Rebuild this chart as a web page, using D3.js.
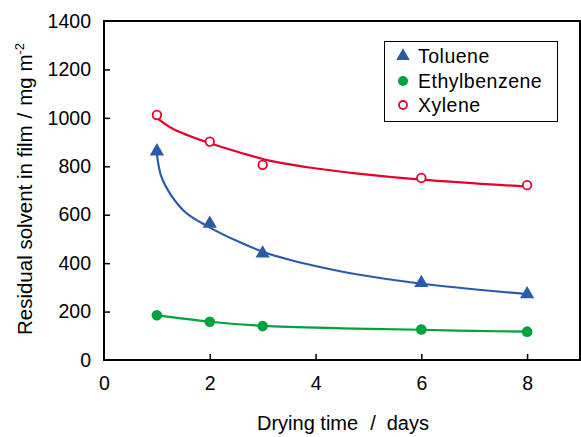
<!DOCTYPE html>
<html>
<head>
<meta charset="utf-8">
<script src="https://cdn.jsdelivr.net/npm/d3@7"></script>
<style>
  body { margin: 0; background: #fff; }
  text { font-family: "Liberation Sans", Arial, sans-serif; fill: #000; }
</style>
</head>
<body>
<div id="chart"></div>
<script>
// Data
const days = [1, 2, 3, 6, 8];
const toluene = [862, 563, 440, 318, 272];
const ethylbenzene = [185, 158, 140, 126, 117];
const xylene = [1012, 902, 806, 752, 722];

// fitted trend curves
const tolueneFitX = [1, 1.08, 1.27, 1.55, 1.95, 2.55, 3.03, 3.54, 4.17, 4.8, 6, 8];
const tolueneFitY = [850, 760, 680, 608, 553, 488, 445, 412, 380, 353, 315, 272];
const ethylFitX = [1, 2, 3, 4.5, 6, 7, 8];
const ethylFitY = [185, 158, 141, 131, 125, 120, 117];
const xyleneFitX = [1, 1.3, 1.95, 2.6, 3.2, 3.85, 4.8, 6, 8];
const xyleneFitY = [1000, 955, 899, 855, 820, 796, 770, 745, 716];

const xTicks = [0, 2, 4, 6, 8];
const yTicks = [0, 200, 400, 600, 800, 1000, 1200, 1400];

const colors = { toluene: '#2a5ba8', ethyl: '#00a23d', xylene: '#e5002b' };

function draw() {
  const dimensions = { width: 581, height: 437, left: 104, top: 21, right: 580, bottom: 360 };

  const svg = d3.select('#chart')
    .append('svg')
    .attr('width', dimensions.width)
    .attr('height', dimensions.height);

  // Scales
  const xScale = d3.scaleLinear().domain([0, 9]).range([dimensions.left, dimensions.right]);
  const yScale = d3.scaleLinear().domain([0, 1400]).range([dimensions.bottom, dimensions.top]);

  // Axes (ticks point inside)
  const xAxis = d3.axisBottom(xScale).tickValues(xTicks).tickFormat(d3.format('d'))
    .tickSizeInner(-6).tickSizeOuter(0).tickPadding(16);
  const yAxis = d3.axisLeft(yScale).tickValues(yTicks).tickFormat(d3.format('d'))
    .tickSizeInner(-6).tickSizeOuter(0).tickPadding(13);

  const xg = svg.append('g')
    .attr('transform', `translate(0, ${dimensions.bottom})`)
    .call(xAxis);
  const yg = svg.append('g')
    .attr('transform', `translate(${dimensions.left}, 0)`)
    .call(yAxis);

  [xg, yg].forEach(g => {
    g.select('.domain').remove();
    g.selectAll('.tick line').attr('stroke', '#000').attr('stroke-width', 1.5);
    g.selectAll('.tick text').style('font-size', '19.5px').attr('fill', '#000');
  });
  xg.selectAll('.tick').filter(d => d === 0).select('line').remove();
  yg.selectAll('.tick').filter(d => d === 0 || d === 1400).select('line').remove();

  // Frame
  svg.append('rect')
    .attr('x', dimensions.left)
    .attr('y', dimensions.top)
    .attr('width', dimensions.right - dimensions.left)
    .attr('height', dimensions.bottom - dimensions.top)
    .attr('fill', 'none')
    .attr('stroke', '#000')
    .attr('stroke-width', 2);

  // Fit curves
  const line = d3.line()
    .x(d => xScale(d[0]))
    .y(d => yScale(d[1]))
    .curve(d3.curveCatmullRom.alpha(0.5));

  const fits = [
    { xs: tolueneFitX, ys: tolueneFitY, color: colors.toluene },
    { xs: ethylFitX, ys: ethylFitY, color: colors.ethyl },
    { xs: xyleneFitX, ys: xyleneFitY, color: colors.xylene },
  ];
  svg.append('g').selectAll('path')
    .data(fits)
    .join('path')
    .attr('d', d => line(d.xs.map((x, i) => [x, d.ys[i]])))
    .attr('fill', 'none')
    .attr('stroke', d => d.color)
    .attr('stroke-width', 2.2);

  // Markers
  const tri = d3.symbol().type(d3.symbolTriangle).size(88);
  svg.append('g').selectAll('path')
    .data(days.map((d, i) => [d, toluene[i]]))
    .join('path')
    .attr('d', tri)
    .attr('transform', d => `translate(${xScale(d[0])}, ${yScale(d[1])})`)
    .attr('fill', colors.toluene);

  svg.append('g').selectAll('circle')
    .data(days.map((d, i) => [d, ethylbenzene[i]]))
    .join('circle')
    .attr('cx', d => xScale(d[0]))
    .attr('cy', d => yScale(d[1]))
    .attr('r', 5.3)
    .attr('fill', colors.ethyl);

  svg.append('g').selectAll('circle')
    .data(days.map((d, i) => [d, xylene[i]]))
    .join('circle')
    .attr('cx', d => xScale(d[0]))
    .attr('cy', d => yScale(d[1]))
    .attr('r', 4.3)
    .attr('fill', '#fff')
    .attr('stroke', colors.xylene)
    .attr('stroke-width', 1.8);

  // Legend
  const legend = svg.append('g');
  legend.append('rect')
    .attr('x', 384.5).attr('y', 41.5)
    .attr('width', 173).attr('height', 80)
    .attr('fill', '#fff')
    .attr('stroke', '#000')
    .attr('stroke-width', 1);

  const legendItems = [
    { name: 'Toluene', y: 56, kind: 'tri' },
    { name: 'Ethylbenzene', y: 81, kind: 'dot' },
    { name: 'Xylene', y: 105, kind: 'ring' },
  ];
  const rows = legend.selectAll('g')
    .data(legendItems)
    .join('g')
    .attr('transform', d => `translate(403, ${d.y})`);
  rows.filter(d => d.kind === 'tri').append('path')
    .attr('d', d3.symbol().type(d3.symbolTriangle).size(80))
    .attr('fill', colors.toluene);
  rows.filter(d => d.kind === 'dot').append('circle')
    .attr('r', 5).attr('fill', colors.ethyl);
  rows.filter(d => d.kind === 'ring').append('circle')
    .attr('r', 4).attr('fill', '#fff')
    .attr('stroke', colors.xylene).attr('stroke-width', 1.8);
  rows.append('text')
    .attr('x', 15)
    .attr('y', 7)
    .style('font-size', '19.5px')
    .style('letter-spacing', '0.5px')
    .text(d => d.name);

  // Axis titles
  const xt = svg.append('text')
    .attr('x', 343)
    .attr('y', 430)
    .attr('text-anchor', 'middle')
    .style('font-size', '20px');
  xt.append('tspan').text('Drying time');
  xt.append('tspan').attr('dx', 12).text('/');
  xt.append('tspan').attr('dx', 11).text('days');

  const yt = svg.append('text')
    .attr('transform', 'translate(32, 189) rotate(-90)')
    .attr('text-anchor', 'middle')
    .style('font-size', '20.5px');
  yt.append('tspan').text('Residual solvent in film');
  yt.append('tspan').attr('dx', 7).text('/');
  yt.append('tspan').attr('dx', 7).text('mg m');
  yt.append('tspan').attr('dy', -8).style('font-size', '13px').text('-2');
}

draw();
</script>
</body>
</html>
